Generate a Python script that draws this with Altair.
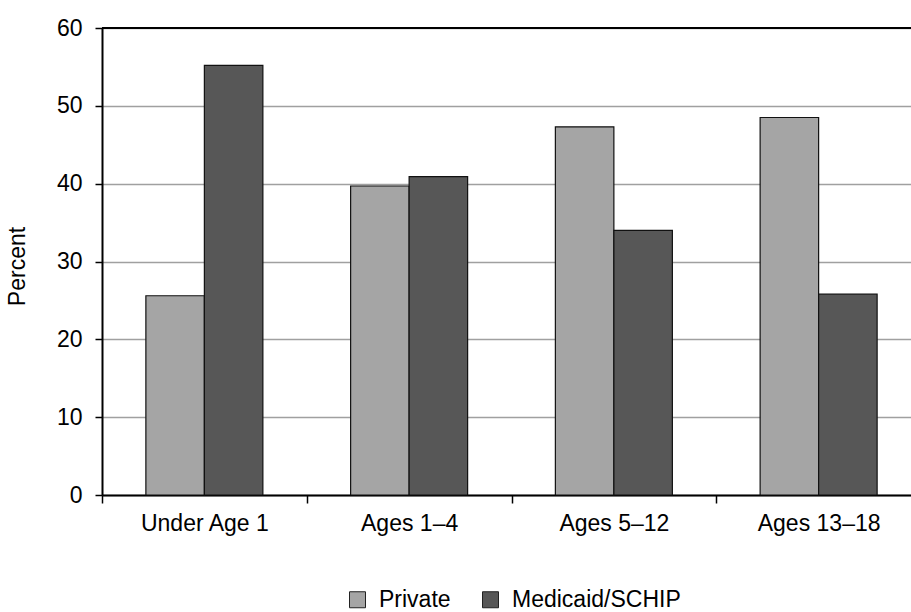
import altair as alt
import pandas as pd

# Share of children by insurance type, per age group
age_groups = ["Under Age 1", "Ages 1–4", "Ages 5–12", "Ages 13–18"]
insurance_types = ["Private", "Medicaid/SCHIP"]
private_pct = [25.6, 39.7, 47.3, 48.5]
medicaid_pct = [55.2, 40.9, 34.0, 25.8]
type_colors = ["#a5a5a5", "#575757"]
y_ticks = [0, 10, 20, 30, 40, 50, 60]

rows = []
for g, p, m in zip(age_groups, private_pct, medicaid_pct):
    rows.append({"group": g, "type": insurance_types[0], "pct": p})
    rows.append({"group": g, "type": insurance_types[1], "pct": m})
df = pd.DataFrame(rows)

FONT = "Liberation Sans"

bars = alt.Chart(df).mark_bar(stroke="#111111", strokeWidth=1.2).encode(
    x=alt.X(
        "group:N",
        sort=age_groups,
        scale=alt.Scale(range=[0, 819], paddingInner=0, paddingOuter=0),
        axis=alt.Axis(
            title=None,
            labelAngle=0,
            labelFont=FONT,
            labelFontSize=23,
            labelColor="#000000",
            labelPadding=9,
            labelLimit=0,
            tickBand="extent",
            tickSize=8,
            tickColor="#000000",
            tickWidth=1.5,
            domainColor="#000000",
            domainWidth=2,
            grid=False,
        ),
    ),
    xOffset=alt.XOffset(
        "type:N",
        sort=insurance_types,
        scale=alt.Scale(paddingInner=0, paddingOuter=0.75),
    ),
    y=alt.Y(
        "pct:Q",
        scale=alt.Scale(domain=[0, 60], nice=False),
        axis=alt.Axis(
            title="Percent",
            titleFont=FONT,
            titleFontSize=23,
            titleFontWeight="normal",
            titleColor="#000000",
            titleAngle=-90,
            titleAlign="center",
            titleBaseline="middle",
            titleX=-85,
            titleY=238,
            values=y_ticks,
            labelFont=FONT,
            labelFontSize=23,
            labelColor="#000000",
            labelPadding=13,
            tickSize=7,
            tickColor="#000000",
            tickWidth=1.5,
            domainColor="#000000",
            domainWidth=2,
            gridColor="#a0a0a0",
            gridWidth=1.5,
        ),
    ),
    color=alt.Color(
        "type:N",
        sort=insurance_types,
        scale=alt.Scale(domain=insurance_types, range=type_colors),
        legend=alt.Legend(
            title=None,
            orient="none",
            direction="horizontal",
            legendX=244,
            legendY=560,
            padding=0,
            symbolType="square",
            symbolSize=256,
            symbolStrokeColor="#222222",
            symbolStrokeWidth=1,
            labelFont=FONT,
            labelFontSize=23,
            labelColor="#000000",
            labelOffset=10,
            labelLimit=0,
            columnPadding=28,
        ),
    ),
)

# Solid frame line across the top of the plot at 60
top_line = alt.Chart(df).mark_rule(color="#000000", strokeWidth=2).encode(
    y=alt.datum(60)
)

chart = (
    alt.layer(bars, top_line)
    .properties(
        width=809,
        height=467,
        autosize=alt.AutoSizeParams(type="none"),
        padding={"left": 102, "top": 28, "right": 0, "bottom": 117},
        background="#ffffff",
    )
    .configure_view(stroke=None)
)

chart.save("out.html", embed_options={"renderer": "svg", "actions": False})
